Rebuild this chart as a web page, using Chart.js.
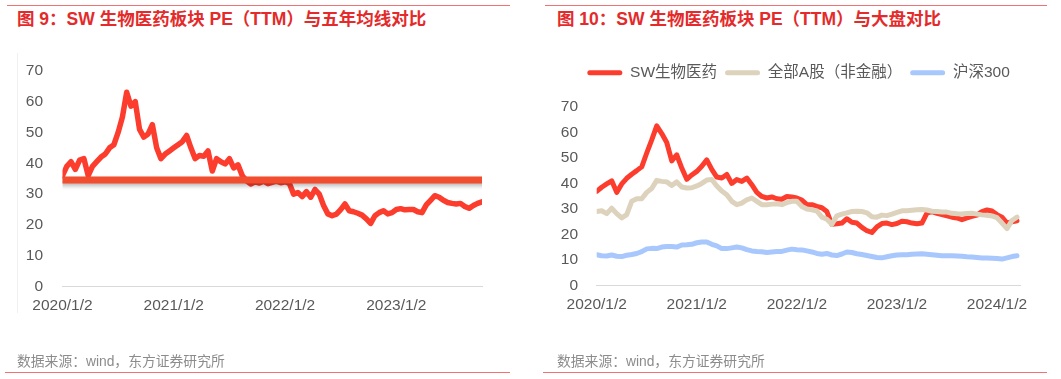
<!DOCTYPE html>
<html><head><meta charset="utf-8">
<script src="https://cdn.jsdelivr.net/npm/chart.js@4"></script>
<style>
html,body{margin:0;padding:0;background:#fff;}
body{width:1061px;height:379px;position:relative;overflow:hidden;font-family:'Liberation Sans','Noto Sans CJK SC',sans-serif;}
.rule{position:absolute;height:0;border-top:1.5px solid #f07272;}
.title{position:absolute;color:#e42a2a;font-size:17.5px;font-weight:700;white-space:nowrap;line-height:1;}
.src{position:absolute;color:#8c8c8c;font-size:13.8px;white-space:nowrap;line-height:1;}
canvas{position:absolute;top:0;}
.vline{position:absolute;left:17px;top:53px;height:260px;width:0;border-left:1px solid #f1f1f1;}
</style></head><body>
<div class="rule" style="left:7px;width:503px;top:5px"></div>
<div class="rule" style="left:545px;width:502px;top:5px"></div>
<div class="title" style="left:17px;top:11px">图 9：SW 生物医药板块 PE（TTM）与五年均线对比</div>
<div class="title" style="left:557px;top:11px">图 10：SW 生物医药板块 PE（TTM）与大盘对比</div>
<div class="vline"></div>
<canvas id="c1" width="530" height="379" style="left:0"></canvas>
<canvas id="c2" width="531" height="379" style="left:530px"></canvas>
<div class="src" style="left:17px;top:354.6px">数据来源：wind，东方证券研究所</div>
<div class="src" style="left:557px;top:354.6px">数据来源：wind，东方证券研究所</div>
<div class="rule" style="left:5px;width:505px;top:372px"></div>
<div class="rule" style="left:543px;width:504px;top:372px"></div>
<script>
// ---- data ----
const xTickLabels = ['2020/1/2','2021/1/2','2022/1/2','2023/1/2','2024/1/2'];
const leftStepYears = 1/26;   // biweekly samples
const rightStepYears = 1/20;
const leftXMax = 3.77;
const rightXMax = 4.23;

const leftPE = [36,39,40.5,38,41,41.5,36,39,40.5,42,
  43,45,46,50,55,63,58.5,60,51,48.5,
  49.5,52.5,45,41.5,43,44,45,46,47,49,
  45,41.5,42.5,42.3,44,37.5,41.5,40.5,39.8,41.5,
  38.5,39.5,36,34.3,33.3,34,33.6,34.2,33.4,33.8,
  34.2,33.7,34,33.5,30,30.5,29.2,30.8,29,31.5,
  30,26.3,23.6,23,23.5,25,26.8,24.6,24.3,23.8,
  23.2,22,20.5,23,24,24.6,23.6,24,25,25.3,
  24.9,25,25,24.3,24,26.5,28,29.5,29,28,
  27.3,27,26.8,27,26,25.4,26.3,27,27.5];
const leftAvgPE = 34.6;

const seriesNames = ['SW生物医药','全部A股（非金融）','沪深300'];
const rightSW = [36.9,38.5,39.8,41,36.5,39.8,42,43.6,45,46.5,
  51.9,57,62.5,59.5,56,48.8,51.2,46,41.6,43.3,
  44.7,46.7,49.2,45.5,42.5,42.1,43.5,40,41.5,40.8,
  42.1,39.5,36.5,34.9,34.3,34.7,34,33.8,34.9,34.7,
  34.3,33.5,31.7,31.7,31,30.5,29,24,24.2,24.5,
  26.2,24.8,24.5,22.8,21.5,20.8,23,24.3,24.5,23.9,
  24.3,25.2,25,24.5,24.2,24.5,28.4,29,28.3,27.8,
  27.3,26.8,26.5,25.8,26.5,27.1,27.6,29,29.6,29.2,
  27.8,26.8,24.5,25,25.4];
const rightAllA = [29,29.3,28.2,30.3,28.2,26.5,27.8,33,34,34,
  36.5,38,41.2,40.8,40.6,39.2,40.6,38.6,38.2,38.3,
  39,40,41.3,41.5,39,37,35.6,33,31.7,32.3,
  33.6,34.3,33,31.7,31.7,31.9,32,31.7,32.5,33,
  33,31,30,29.7,29.2,26.8,26,24,27.3,28,
  28.5,29,29.1,29,28.5,27,26.8,27.6,27.4,28,
  28.7,29.3,29.3,29.5,29.7,29.8,29.6,29.1,29,28.8,
  28.8,28.3,28.1,28,28.2,28.3,28,27.7,27.5,27.3,
  26.6,24.5,22.3,25.5,26.8];
const rightHS300 = [12.1,11.7,11.6,12,11.5,11.4,11.9,12.2,12.6,13.3,
  14.4,14.6,14.5,15.1,15.3,15.3,15.1,15.9,16,16.2,
  16.8,17.1,17.1,16.2,15.6,14.5,14.5,14.8,15.1,14.8,
  14.1,13.6,13.4,13.3,13,13.2,13.4,13.4,13.9,14.3,
  14.1,14,13.6,13.2,12.6,12.3,12.6,12,11.8,12.4,
  13.2,13,12.5,12.2,11.8,11.4,11,10.9,11.3,11.7,
  12,12.1,12.1,12.3,12.4,12.5,12.3,12.1,11.9,11.7,
  11.7,11.7,11.6,11.5,11.3,11.2,11,10.8,10.8,10.7,
  10.6,10.4,10.9,11.4,11.7];

// ---- helpers ----
Chart.defaults.font.family = "'Liberation Sans','Noto Sans CJK SC',sans-serif";
Chart.defaults.animation = false;
const TICK_COLOR = '#595959';
const toPoints = (arr, step) => arr.map((v, i) => ({x: i * step, y: v}));

function xScale(max) {
  return {
    type: 'linear', min: 0, max: max,
    grid: {display: false, drawTicks: false},
    border: {display: true, color: '#d9d9d9', width: 1},
    afterBuildTicks: s => { s.ticks = xTickLabels.slice(0, Math.floor(max) + 1).map((_, i) => ({value: i})); },
    afterFit: s => { s.height = 40; },
    ticks: {autoSkip: false, maxRotation: 0, padding: 10, color: TICK_COLOR, font: {size: 15.5},
      callback: (v, i) => xTickLabels[i]}
  };
}
function yScale(width, pad) {
  return {
    min: 0, max: 70,
    grid: {display: false, drawTicks: false},
    border: {display: false},
    afterFit: s => { s.width = width; },
    ticks: {stepSize: 10, padding: pad, color: TICK_COLOR, font: {size: 15.5}}
  };
}

const shadowPlugin = {
  id: 'avgShadow',
  beforeDatasetDraw(chart, args) {
    if (chart.data.datasets[args.index].shadow) {
      const c = chart.ctx; c.save();
      c.shadowColor = 'rgba(0,0,0,0.28)'; c.shadowBlur = 4; c.shadowOffsetY = 2.5; c.shadowOffsetX = 1;
    }
  },
  afterDatasetDraw(chart, args) {
    if (chart.data.datasets[args.index].shadow) chart.ctx.restore();
  }
};

// ---- left chart ----
new Chart(document.getElementById('c1'), {
  type: 'line',
  data: {datasets: [
    {label: 'SW生物医药', data: toPoints(leftPE, leftStepYears), borderColor: '#fc3d2e', borderWidth: 5.5,
     pointRadius: 0, tension: 0, borderJoinStyle: 'round', borderCapStyle: 'round', order: 2},
    {label: '五年均线', data: leftPE.map((_, i) => ({x: i * leftStepYears, y: leftAvgPE})), borderColor: '#f34d2f',
     borderWidth: 7, pointRadius: 0, borderCapStyle: 'square', order: 1, shadow: true}
  ]},
  options: {
    responsive: false, devicePixelRatio: 1,
    layout: {padding: {top: 70.7, left: 20, right: 48, bottom: 52.3}},
    scales: {x: xScale(leftXMax), y: yScale(42.5, 19.5)},
    plugins: {legend: {display: false}, tooltip: {enabled: false}}
  },
  plugins: [shadowPlugin]
});

// ---- right chart ----
const LEGEND_H = 49.7;
const LEGEND_SHIFT = 10.2;
const legendPlugin = {
  id: 'legendTweak',
  beforeInit(chart) {
    const fit = chart.legend.fit;
    chart.legend.fit = function () { fit.call(this); this.height = LEGEND_H; };
  },
  beforeDraw(chart) {
    chart.legend.left += LEGEND_SHIFT; chart.legend.right += LEGEND_SHIFT;
  },
  afterDraw(chart) {
    chart.legend.left -= LEGEND_SHIFT; chart.legend.right -= LEGEND_SHIFT;
  }
};
new Chart(document.getElementById('c2'), {
  type: 'line',
  data: {datasets: [
    {label: seriesNames[0], data: toPoints(rightSW, rightStepYears), borderColor: '#fc3d2e', borderWidth: 5,
     pointRadius: 0, tension: 0, borderJoinStyle: 'round', borderCapStyle: 'round', order: 2},
    {label: seriesNames[1], data: toPoints(rightAllA, rightStepYears), borderColor: '#ddd2bc', borderWidth: 5,
     pointRadius: 0, tension: 0, borderJoinStyle: 'round', borderCapStyle: 'round', order: 1},
    {label: seriesNames[2], data: toPoints(rightHS300, rightStepYears), borderColor: '#a8c7fd', borderWidth: 5,
     pointRadius: 0, tension: 0, borderJoinStyle: 'round', borderCapStyle: 'round', order: 3}
  ]},
  options: {
    responsive: false, devicePixelRatio: 1,
    layout: {padding: {top: 57, left: 26.7, right: 41, bottom: 53.3}},
    scales: {x: xScale(rightXMax), y: yScale(40, 18.7)},
    plugins: {
      tooltip: {enabled: false},
      legend: {display: true, position: 'top',
        labels: {boxWidth: 35, boxHeight: 5, padding: 8, color: TICK_COLOR, font: {size: 15.5},
          useBorderRadius: true, borderRadius: 2.5,
          generateLabels: ch => ch.data.datasets.map((d, i) => ({text: d.label, fillStyle: d.borderColor,
            strokeStyle: d.borderColor, lineWidth: 0, hidden: false, datasetIndex: i, borderRadius: 2.5, fontColor: TICK_COLOR}))}}
    }
  },
  plugins: [legendPlugin]
});
</script>
</body></html>
